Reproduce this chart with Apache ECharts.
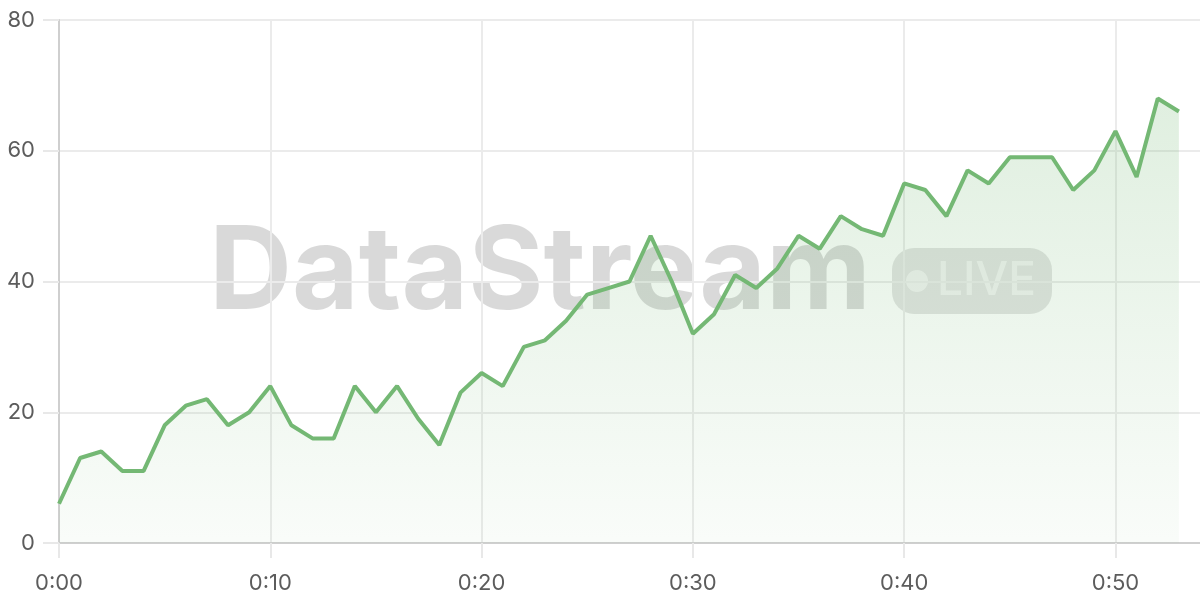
<!DOCTYPE html>
<html>
<head>
<meta charset="utf-8">
<script src="https://cdn.jsdelivr.net/npm/echarts@6/dist/echarts.min.js"></script>
<style>
html,body{margin:0;padding:0;background:#fff;}
#chart{width:1200px;height:600px;}
</style>
</head>
<body>
<div id="chart"></div>
<script>
// value per minute (0:00 .. 0:53)
var values = [6, 13, 14, 11, 11, 18, 21, 22, 18, 20,
              24, 18, 16, 16, 24, 20, 24, 19, 15, 23,
              26, 24, 30, 31, 34, 38, 39, 40, 47, 40,
              32, 35, 41, 39, 42, 47, 45, 50, 48, 47,
              55, 54, 50, 57, 55, 59, 59, 59, 54, 57,
              63, 56, 68, 66];
var totalMinutes = 55; // axis runs 0:00 .. 0:54
var yTicks = [0, 20, 40, 60, 80];
var watermarkText = 'DataStream';
var badgeText = 'LIVE';

var categories = [];
for (var i = 0; i < totalMinutes; i++) {
  categories.push('0:' + (i < 10 ? '0' + i : '' + i));
}

var chart = echarts.init(document.getElementById('chart'));
var green = '#74b874';
var labelFont = 'Inter';
chart.setOption({
  animation: false,
  backgroundColor: '#ffffff',
  grid: { left: 59, right: 0, top: 20, bottom: 57 },
  xAxis: {
    type: 'category',
    data: categories,
    boundaryGap: false,
    axisLine: { show: true, lineStyle: { color: '#cfcfcf', width: 2 } },
    axisTick: { show: true, interval: 9, length: 15, lineStyle: { color: '#e8e8e8', width: 2 } },
    axisLabel: { interval: 9, margin: 29, color: '#5c5c5c', fontSize: 22, fontFamily: labelFont },
    splitLine: { show: true, interval: 9, lineStyle: { color: '#ebebeb', width: 2 } }
  },
  yAxis: {
    type: 'value',
    min: yTicks[0],
    max: yTicks[yTicks.length - 1],
    interval: yTicks[1] - yTicks[0],
    axisLine: { show: true, lineStyle: { color: '#cfcfcf', width: 2 } },
    axisTick: { show: true, length: 16, lineStyle: { color: '#e8e8e8', width: 2 } },
    axisLabel: { margin: 24, color: '#5c5c5c', fontSize: 22, fontFamily: labelFont },
    splitLine: { show: true, lineStyle: { color: '#ebebeb', width: 2 } }
  },
  graphic: [
    {
      type: 'text', z: 0, silent: true,
      left: 209, top: 217,
      style: {
        text: watermarkText,
        font: 'bold 115px Inter',
        fill: 'rgba(0,0,0,0.15)'
      }
    },
    {
      type: 'group', z: 0, silent: true,
      left: 892, top: 248,
      children: [
        { type: 'rect', shape: { x: 0, y: 0, width: 160, height: 66, r: 22 },
          style: { fill: 'rgba(0,0,0,0.11)' } },
        { type: 'circle', shape: { cx: 25, cy: 33, r: 11 },
          style: { fill: 'rgba(255,255,255,0.55)' } },
        { type: 'text', x: 45, y: 33,
          style: { text: badgeText, font: '500 46px Inter', fill: 'rgba(255,255,255,0.55)',
                   verticalAlign: 'middle' } }
      ]
    }
  ],
  series: [{
    type: 'line',
    data: values,
    showSymbol: false,
    symbol: 'none',
    z: 5,
    lineStyle: { color: green, width: 4 },
    itemStyle: { color: green },
    areaStyle: {
      color: new echarts.graphic.LinearGradient(0, 0, 0, 1, [
        { offset: 0, color: 'rgba(116,184,116,0.32)' },
        { offset: 1, color: 'rgba(116,184,116,0.06)' }
      ])
    }
  }]
});
</script>
</body>
</html>
